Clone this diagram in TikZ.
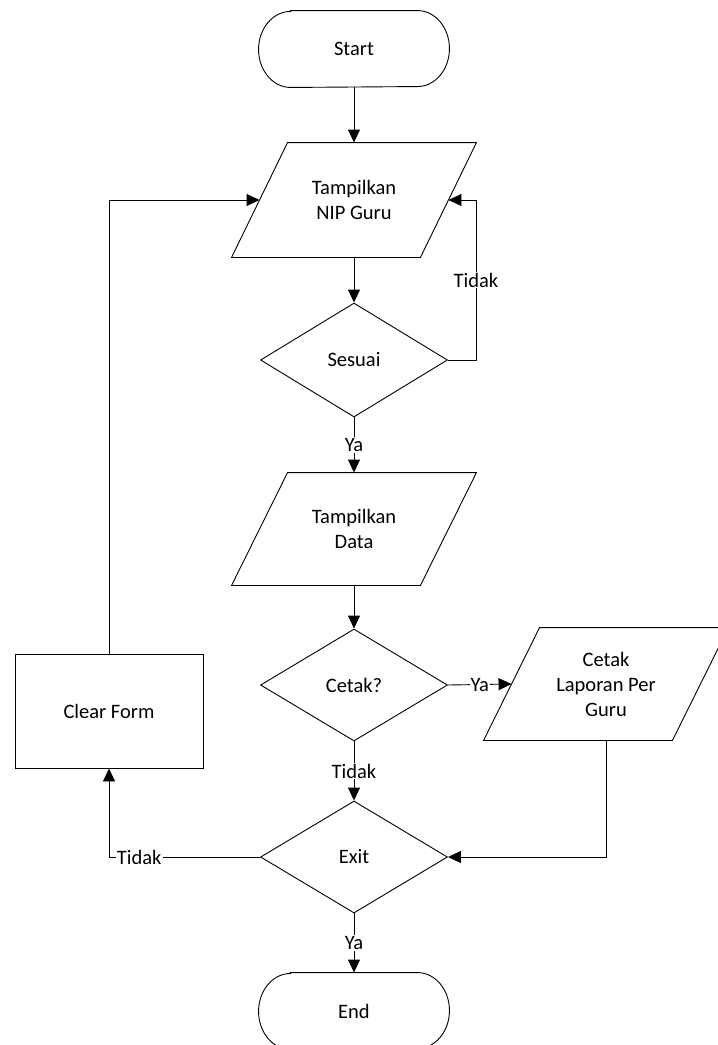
\documentclass[tikz,border=0pt]{standalone}
\usepackage{fontspec}
\setmainfont{Carlito}
\usetikzlibrary{arrows.meta,shapes.geometric}

% outline of an input/output parallelogram around a body node
\newcommand\ioshape[1]{%
  \draw ([xshift=28pt]#1.north west) -- ([xshift=28pt]#1.north east)
     -- ([xshift=-28pt]#1.south east) -- ([xshift=-28pt]#1.south west) -- cycle;}
% outline of a start/end terminator with elliptic ends
\newcommand\termshape[1]{%
  \draw ([xshift=32pt]#1.north west) -- ([xshift=-32pt]#1.north east)
     arc[start angle=90,end angle=-90,x radius=32pt,y radius=38pt]
     -- ([xshift=32pt]#1.south west)
     arc[start angle=270,end angle=90,x radius=32pt,y radius=38pt] -- cycle;}

\begin{document}
\begin{tikzpicture}[x=1pt,y=-1pt,
  line width=0.9pt,
  every node/.style={font=\fontsize{20.5}{25}\selectfont},
  term/.style={rectangle,minimum width=190pt,minimum height=76pt,inner sep=0pt},
  iobody/.style={rectangle,minimum width=188pt,minimum height=114pt,inner sep=0pt,align=center},
  decision/.style={diamond,draw,minimum width=187pt,minimum height=114pt,inner sep=0pt},
  process/.style={rectangle,draw,minimum width=188pt,minimum height=114pt,inner sep=0pt},
  flow/.style={-{Triangle[length=13pt,width=12pt]}},
  lbl/.style={fill=white,inner sep=1pt}]
\useasboundingbox (0,0) rectangle (718,1045);

% nodes
\node[term] (start) at (354,49) {Start};
\node[iobody] (nip) at (354,200) {Tampilkan\\NIP Guru};
\node[decision] (sesuai) at (354,360) {Sesuai};
\node[iobody,minimum height=112pt] (data) at (354,529) {Tampilkan\\Data};
\node[decision,minimum height=112pt] (cetak) at (354,685) {Cetak?};
\node[iobody,minimum height=112pt] (lap) at (606,684) {Cetak\\Laporan Per\\Guru};
\node[decision,minimum height=112pt] (exit) at (354,857) {Exit};
\node[process] (clear) at (109,711) {Clear Form};
\node[term] (end) at (354,1011) {End};

% outlines
\termshape{start}
\termshape{end}
\ioshape{nip}
\ioshape{data}
\ioshape{lap}

% connectors
\draw[flow] (start) -- (nip);
\draw[flow] (nip) -- (sesuai);
\draw[flow] (sesuai.east) -- ++(28,0) |- (nip.east)
  node[lbl,pos=0.25] {Tidak};
\draw[flow] (sesuai) -- node[lbl] {Ya} (data);
\draw[flow] (data) -- (cetak);
\draw[flow] (cetak.east) -- node[lbl] {Ya} (lap.west);
\draw[flow] (cetak) -- node[lbl] {Tidak} (exit);
\draw[flow] (lap.south) |- (exit.east);
\draw[flow] (exit.west) -| node[lbl,pos=0.4] {Tidak} (clear.south);
\draw[flow] (exit) -- node[lbl] {Ya} (end);
\draw[flow] (clear.north) |- (nip.west);
\end{tikzpicture}
\end{document}
